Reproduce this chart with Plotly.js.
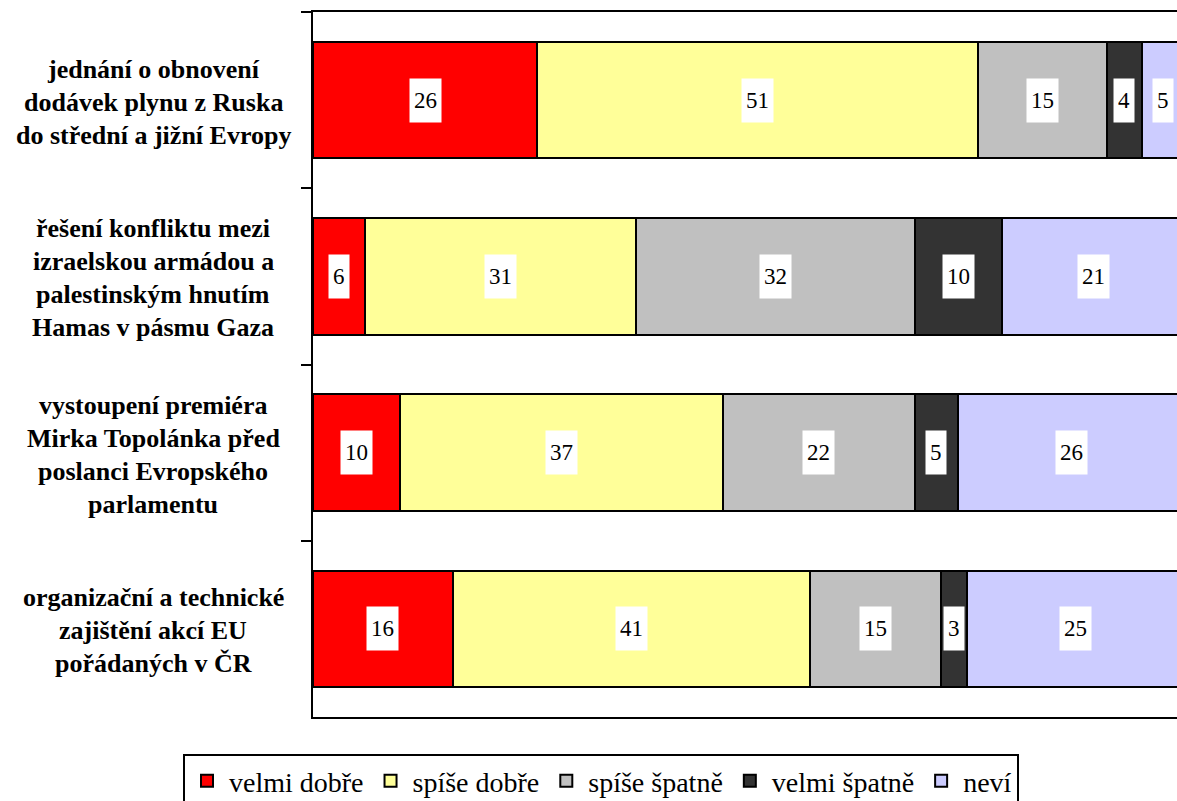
<!DOCTYPE html>
<html>
<head>
<meta charset="utf-8">
<script src="https://cdn.plot.ly/plotly-3.0.1.min.js"></script>
<style>html,body{margin:0;padding:0;background:#fff;}#chart{width:1177px;height:801px;}</style>
</head>
<body>
<div id="chart"></div>
<script>
const categories = [
  "jednání o obnovení<br>dodávek plynu z Ruska<br>do střední a jižní Evropy",
  "řešení konfliktu mezi<br>izraelskou armádou a<br>palestinským hnutím<br>Hamas v pásmu Gaza",
  "vystoupení premiéra<br>Mirka Topolánka před<br>poslanci Evropského<br>parlamentu",
  "organizační a technické<br>zajištění akcí EU<br>pořádaných v ČR"
];
const seriesNames = ["velmi dobře", "spíše dobře", "spíše špatně", "velmi špatně", "neví"];
const velmiDobre  = [26, 6, 10, 16];
const spiseDobre  = [51, 31, 37, 41];
const spiseSpatne = [15, 32, 22, 15];
const velmiSpatne = [4, 10, 5, 3];
const nevi        = [5, 21, 26, 25];
const colors = ["#FF0000", "#FFFF99", "#C0C0C0", "#333333", "#CCCCFF"];

const seriesValues = [velmiDobre, spiseDobre, spiseSpatne, velmiSpatne, nevi];
const catIds = categories.map((c, i) => "c" + i);

const traces = seriesValues.map((vals, s) => ({
  type: "bar",
  orientation: "h",
  name: seriesNames[s],
  x: vals,
  y: catIds,
  marker: {color: colors[s], line: {color: "#000", width: 2}},
  hoverinfo: "skip"
}));

const annotations = [];
// value labels with white boxes (positions in 100% stacked space)
catIds.forEach((cid, i) => {
  const total = seriesValues.reduce((a, vals) => a + vals[i], 0);
  let cum = 0;
  seriesValues.forEach((vals, s) => {
    const v = vals[i];
    annotations.push({
      x: (cum + v / 2) / total * 100, y: cid, xref: "x", yref: "y",
      text: String(v), showarrow: false,
      font: {family: "Liberation Serif", size: 23, color: "#000"},
      bgcolor: "#fff", borderpad: 4, height: 35,
      xanchor: "center", yanchor: "middle"
    });
    cum += v;
  });
});
// category labels, one annotation per line for the original line spacing
const LINE = 33;
const labelX = (153 - 313) / 864;
categories.forEach((c, i) => {
  const lines = c.split("<br>");
  const n = lines.length;
  lines.forEach((ln, k) => {
    annotations.push({
      x: labelX, y: catIds[i], xref: "paper", yref: "y",
      text: "<b>" + ln + "</b>", showarrow: false,
      font: {family: "Liberation Serif", size: 26, color: "#000"},
      xanchor: "center", yanchor: "middle",
      yshift: ((n - 1) / 2 - k) * LINE - 2
    });
  });
});

const layout = {
  width: 1177, height: 801,
  margin: {l: 313, r: 0, t: 12, b: 84, autoexpand: false},
  barmode: "stack",
  barnorm: "percent",
  bargap: 0.34,
  paper_bgcolor: "#fff", plot_bgcolor: "#fff",
  font: {family: "Liberation Serif", size: 20, color: "#000"},
  xaxis: {range: [0, 99.1], showgrid: false, zeroline: false, showticklabels: false,
          ticks: "", showline: true, linecolor: "#000", linewidth: 2, mirror: true, fixedrange: true},
  yaxis: {type: "category", autorange: "reversed", showgrid: false, zeroline: false,
          showticklabels: false, ticks: "outside", tickson: "boundaries", ticklen: 10,
          tickwidth: 2, tickcolor: "#000", showline: true, linecolor: "#000", linewidth: 2, fixedrange: true},
  showlegend: true,
  legend: {orientation: "h", xref: "container", x: 601 / 1177, xanchor: "center",
           yref: "container", y: (801 - 754) / 801, yanchor: "top",
           bordercolor: "#000", borderwidth: 2, bgcolor: "#fff", itemwidth: 34,
           font: {family: "Liberation Serif", size: 28, color: "#000"}, traceorder: "normal"},
  annotations: annotations
};

Plotly.newPlot("chart", traces, layout, {displayModeBar: false, staticPlot: true});
</script>
</body>
</html>
